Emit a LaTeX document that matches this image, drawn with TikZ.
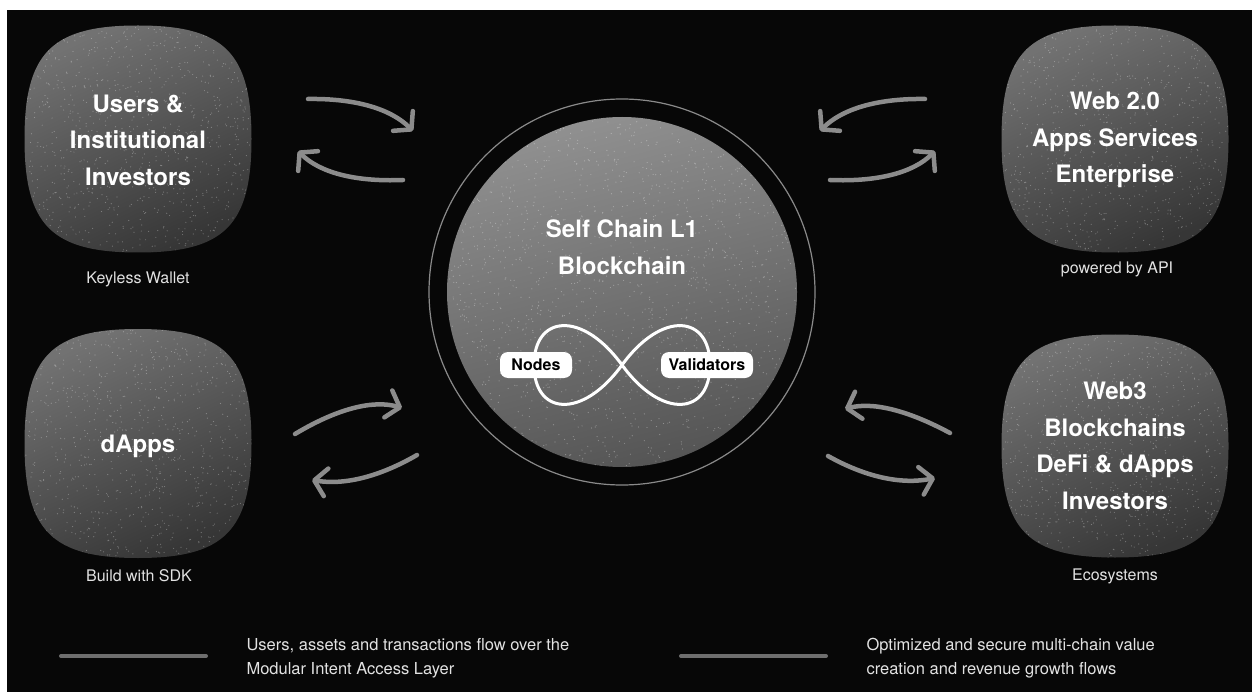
\documentclass[tikz,border=0pt]{standalone}
\usepackage{fontspec}
\setmainfont{TeX Gyre Heros}
\usetikzlibrary{arrows.meta}
\definecolor{bg}{HTML}{070707}
\definecolor{flowgray}{HTML}{8C8C8C}
\definecolor{ringgray}{HTML}{8A8A8A}
\definecolor{legendgray}{HTML}{6E6E6E}
\definecolor{boxtop}{HTML}{727272}
\definecolor{boxbot}{HTML}{363636}
\definecolor{disctop}{HTML}{909090}
\definecolor{discbot}{HTML}{555555}
\definecolor{labelgray}{HTML}{E2E2E2}
\newcommand\sqk{0.76}
\newcommand\sqpath[4]{(#1,#2-#4) .. controls ({#1+\sqk*#3},{#2-#4}) and ({#1+#3},{#2-\sqk*#4}) .. ({#1+#3},#2) .. controls ({#1+#3},{#2+\sqk*#4}) and ({#1+\sqk*#3},{#2+#4}) .. (#1,{#2+#4}) .. controls ({#1-\sqk*#3},{#2+#4}) and ({#1-#3},{#2+\sqk*#4}) .. ({#1-#3},#2) .. controls ({#1-#3},{#2-\sqk*#4}) and ({#1-\sqk*#3},{#2-#4}) .. (#1,{#2-#4}) -- cycle}
\newcommand\mysquircle[4]{%
  \shade[top color=boxtop,bottom color=boxbot,shading angle=25] \sqpath{#1}{#2}{#3}{#4};
  \begin{scope}
    \clip \sqpath{#1}{#2}{#3}{#4};
    \fill[white,opacity=0.3] \foreach \i in {1,...,950}{({#1+rand*#3},{#2+rand*#4}) circle (0.6)};
  \end{scope}}
\begin{document}
\begin{tikzpicture}[x=1pt,y=-1pt,
  boxtitle/.style={text=white,align=center,font=\bfseries\fontsize{24}{36.5}\selectfont},
  sublabel/.style={text=labelgray,font=\fontsize{16}{19}\selectfont},
  legendtext/.style={text=labelgray,align=left,anchor=west,font=\fontsize{16.5}{24}\selectfont},
  flow/.style={draw=flowgray,line width=4.5,line cap=round,-{Straight Barb[length=12pt,width=28pt,round]}},
  legendline/.style={draw=legendgray,line width=4,line cap=round},
  pill/.style={fill=white,rounded corners=8pt,minimum width=#1,minimum height=26pt,inner sep=0pt,text=black,font=\bfseries\fontsize{16}{18}\selectfont}
]
\pgfmathsetseed{7}
% page and background
\fill[white] (0,0) rectangle (1252,692);
\fill[bg] (7,10) rectangle (1252,692);
\useasboundingbox (0,0) rectangle (1252,692);

% squircle boxes
\mysquircle{138}{139}{113.5}{113.5}
\mysquircle{1115}{139}{113.5}{113.5}
\mysquircle{138}{443.5}{113.5}{114.5}
\mysquircle{1115}{446}{113.5}{111.5}

% central disc
\draw[ringgray,line width=1.2] (622,292) circle (193);
\shade[top color=disctop,bottom color=discbot,shading angle=15] (622,292) circle (175);
\begin{scope}
  \clip (622,292) circle (175);
  \fill[white,opacity=0.32] \foreach \i in {1,...,1700}{({622+rand*175},{292+rand*175}) circle (0.6)};
\end{scope}

% box titles
\node[boxtitle] (users) at (138,140) {Users \&\\Institutional\\Investors};
\node[boxtitle] (web2) at (1115,140) {Web 2.0\\Apps Services\\Enterprise};
\node[boxtitle] (dapps) at (138,446) {dApps};
\node[boxtitle] (web3) at (1115,446) {Web3\\Blockchains\\DeFi \& dApps\\Investors};
\node[boxtitle] (chain) at (622,247) {Self Chain L1\\Blockchain};

% sub labels
\node[sublabel] (keyless) at (138,279) {Keyless Wallet};
\node[sublabel] (api) at (1117,269) {powered by API};
\node[sublabel] (sdk) at (139,576) {Build with SDK};
\node[sublabel] (eco) at (1115,576) {Ecosystems};

% infinity loop
\coordinate (inf) at (622,365);
\draw[white,line width=3] (inf) .. controls (662,310) and (710,315) .. (710,365) .. controls (710,415) and (662,420) .. (inf) .. controls (582,310) and (534,315) .. (534,365) .. controls (534,415) and (582,420) .. (inf);
\node[pill=72pt] (nodes) at (536,365) {Nodes};
\node[pill=92pt] (valid) at (707,365) {Validators};

% flow arrows
\coordinate (a1s) at (308,99);  \coordinate (a1e) at (413,131);
\coordinate (a2s) at (403,180); \coordinate (a2e) at (298,151);
\coordinate (a3s) at (925,99);  \coordinate (a3e) at (820,131);
\coordinate (a4s) at (830,180); \coordinate (a4e) at (935,151);
\coordinate (a5s) at (295,434); \coordinate (a5e) at (402,408);
\coordinate (a6s) at (417,455); \coordinate (a6e) at (312,480);
\coordinate (a7s) at (950,433); \coordinate (a7e) at (845,409);
\coordinate (a8s) at (828,456); \coordinate (a8e) at (935,478);
\draw[flow] (a1s) .. controls (356,98.3) and (391,109) .. (a1e);
\draw[flow] (a2s) .. controls (354.3,182) and (319.3,172.3) .. (a2e);
\draw[flow] (a3s) .. controls (877,98.3) and (842,109) .. (a3e);
\draw[flow] (a4s) .. controls (878.7,182) and (913.7,172.3) .. (a4e);
\draw[flow] (a5s) .. controls (338.3,408) and (374,399.7) .. (a5e);
\draw[flow] (a6s) .. controls (379,477) and (344,485.3) .. (a6e);
\draw[flow] (a7s) .. controls (906.7,409.7) and (871.7,401.7) .. (a7e);
\draw[flow] (a8s) .. controls (866,477.3) and (901.7,484.7) .. (a8e);

% legend
\coordinate (l1a) at (61,656); \coordinate (l1b) at (206,656);
\coordinate (l2a) at (681,656); \coordinate (l2b) at (826,656);
\draw[legendline] (l1a) -- (l1b);
\draw[legendline] (l2a) -- (l2b);
\node[legendtext] (leg1) at (243,658) {Users, assets and transactions flow over the\\Modular Intent Access Layer};
\node[legendtext] (leg2) at (863,658) {Optimized and secure multi-chain value\\creation and revenue growth flows};
\end{tikzpicture}
\end{document}
